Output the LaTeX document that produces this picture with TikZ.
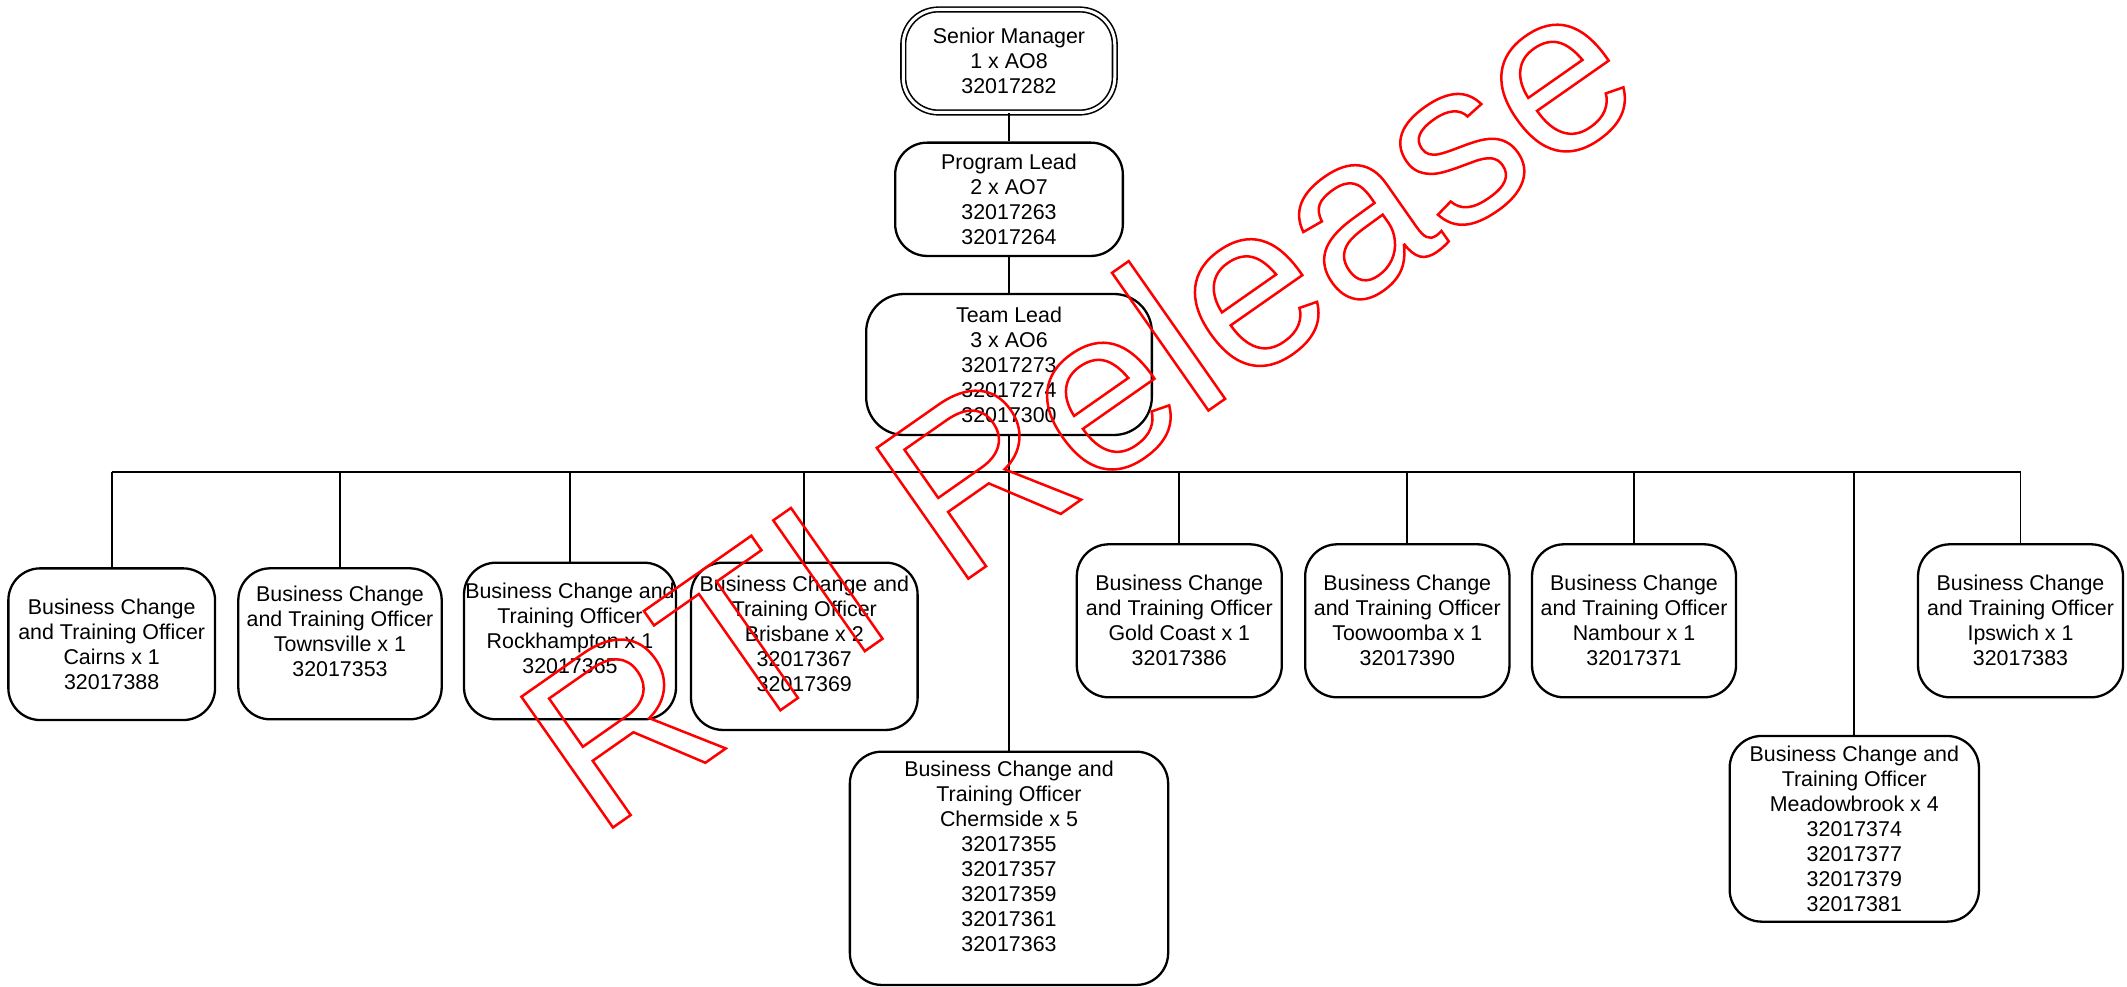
\documentclass[tikz,border=0pt]{standalone}
\usepackage{fontspec}
\setmainfont{Liberation Sans}
\begin{document}
\begin{tikzpicture}[x=1pt,y=-1pt,
  every node/.style={font=\fontsize{21.4}{25}\selectfont},
  box/.style={draw, line width=2.3pt, rounded corners=32pt, align=center, inner sep=0pt},
  link/.style={line width=1.8pt},
  stamp/.style={anchor=base west, rotate=35, inner sep=0pt, text=red,
    font=\fontsize{232}{232}\selectfont}]
\useasboundingbox (0,0) rectangle (2127,987);

% management chain
\node[box, double, double distance=3pt, line width=1.6pt, rounded corners=35pt,
      minimum width=211.5pt, minimum height=103pt] (sm) at (1009,61)
  {Senior Manager\\1 x AO8\\32017282};
\node[box, minimum width=227.7pt, minimum height=113.3pt] (pl) at (1009,199.3)
  {Program Lead\\2 x AO7\\32017263\\32017264};
\node[box, rounded corners=38pt, minimum width=285.7pt, minimum height=141pt] (tl) at (1009,364.5)
  {Team Lead\\3 x AO6\\32017273\\32017274\\32017300};

% regional officers
\node[box, minimum width=206.7pt, minimum height=151.7pt] (cairns) at (111.7,644.2)
  {Business Change\\and Training Officer\\Cairns x 1\\32017388};
\node[box, minimum width=203.4pt, minimum height=151pt] (townsville) at (340,643.8)
  {Business Change\\and Training Officer\\Townsville x 1\\32017353\\~};
\node[box, minimum width=212pt, minimum height=156.6pt] (rockhampton) at (570,641)
  {Business Change and\\Training Officer\\Rockhampton x 1\\32017365\\~};
\node[box, minimum width=226.6pt, minimum height=167.3pt] (brisbane) at (804.3,646.3)
  {Business Change and\\Training Officer\\Brisbane x 2\\32017367\\32017369\\~};
\node[box, minimum width=318.3pt, minimum height=233.3pt] (chermside) at (1009,868.3)
  {Business Change and\\Training Officer\\Chermside x 5\\32017355\\32017357\\32017359\\32017361\\32017363\\~};
\node[box, minimum width=205pt, minimum height=153pt] (goldcoast) at (1179.3,620.8)
  {Business Change\\and Training Officer\\Gold Coast x 1\\32017386};
\node[box, minimum width=204.3pt, minimum height=153pt] (toowoomba) at (1407.3,620.8)
  {Business Change\\and Training Officer\\Toowoomba x 1\\32017390};
\node[box, minimum width=204pt, minimum height=153pt] (nambour) at (1634,620.8)
  {Business Change\\and Training Officer\\Nambour x 1\\32017371};
\node[box, minimum width=249.3pt, minimum height=185.7pt] (meadowbrook) at (1854.3,828.8)
  {Business Change and\\Training Officer\\Meadowbrook x 4\\32017374\\32017377\\32017379\\32017381};
\node[box, minimum width=205pt, minimum height=153pt] (ipswich) at (2020.5,620.8)
  {Business Change\\and Training Officer\\Ipswich x 1\\32017383};

% connectors
\coordinate (busL) at (111.7,471.7);
\coordinate (busR) at (2020.5,471.7);
\draw[link] (sm.south) -- (pl.north);
\draw[link] (pl.south) -- (tl.north);
\draw[link] (tl.south) -- (chermside.north);
\draw[link, line width=2.1pt] (busL) -- (busR);
\foreach \n in {cairns,townsville,rockhampton,brisbane,goldcoast,toowoomba,nambour,meadowbrook,ipswich}
  \draw[link] (\n.north) -- (\n.north |- busL);

% red outlined stamp (text render mode 1 = stroke only)
\node[stamp] (rti) at (597.2,838.5)
  {\special{pdf:literal direct 1 Tr 2.5 w}RTI Release\special{pdf:literal direct 0 Tr}};
\end{tikzpicture}
\end{document}
